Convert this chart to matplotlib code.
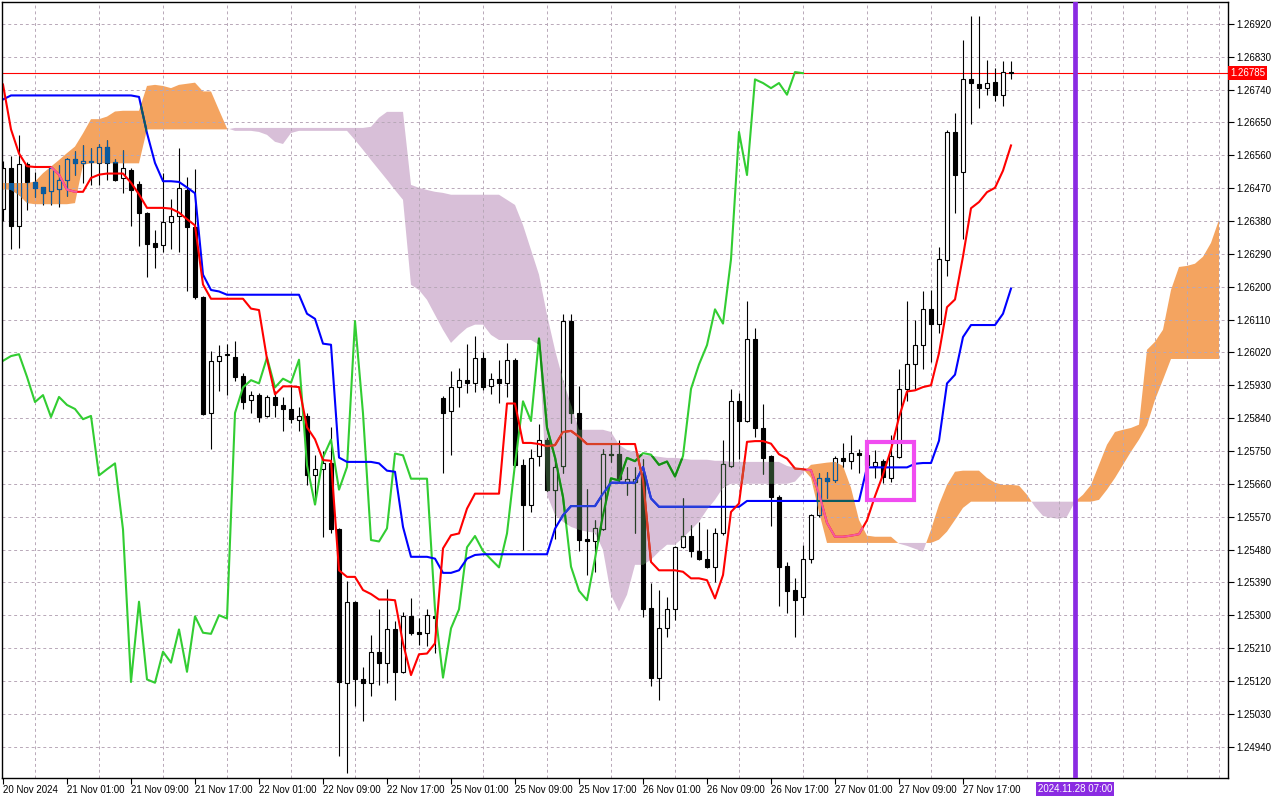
import numpy as np
import matplotlib
matplotlib.use("Agg")
import matplotlib.pyplot as plt
from matplotlib.path import Path
from matplotlib.patches import Rectangle
from matplotlib.transforms import blended_transform_factory

plt.rcParams['font.family'] = ['Liberation Sans', 'DejaVu Sans']

# GBPUSD H1 candles, bar 0 = 20 Nov 17:00, bar 126 = 27 Nov 23:00
opens = [
    1.26414, 1.26525, 1.26365, 1.26536, 1.26488, 1.26472, 1.26461, 1.26467, 1.26491, 1.26550,
    1.26539, 1.26543, 1.26540, 1.26582, 1.26543, 1.26497, 1.26520, 1.26482, 1.26402, 1.26319,
    1.26315, 1.26377, 1.26393, 1.26464, 1.26363, 1.26171, 1.25854, 1.25997, 1.26013, 1.26008,
    1.25956, 1.25890, 1.25903, 1.25846, 1.25898, 1.25876, 1.25865, 1.25835, 1.25846, 1.25683,
    1.25700, 1.25716, 1.25535, 1.25115, 1.25337, 1.25124, 1.25115, 1.25200, 1.25170, 1.25261,
    1.25145, 1.25297, 1.25255, 1.25250, 1.25297, 1.25895, 1.25860, 1.25924, 1.25944, 1.25935,
    1.26006, 1.25927, 1.25948, 1.25937, 1.26000, 1.25711, 1.25603, 1.25736, 1.25779, 1.25644,
    1.25708, 1.26106, 1.25853, 1.25508, 1.25504, 1.25535, 1.25743, 1.25741, 1.25665, 1.25665,
    1.25688, 1.25319, 1.25129, 1.25264, 1.25316, 1.25486, 1.25517, 1.25476, 1.25455, 1.25431,
    1.25524, 1.25709, 1.25886, 1.25832, 1.26058, 1.25814, 1.25736, 1.25624, 1.25434, 1.25369,
    1.25350, 1.25455, 1.25574, 1.25675, 1.25670, 1.25731, 1.25722, 1.25744, 1.25740, 1.25710,
    1.25722, 1.25675, 1.25734, 1.25920, 1.25987, 1.26040, 1.26138, 1.26097, 1.26273, 1.26624,
    1.26513, 1.26768, 1.26756, 1.26744, 1.26761, 1.26724, 1.26788]
highs = [
    1.26545, 1.26559, 1.26616, 1.26543, 1.26514, 1.26472, 1.26532, 1.26534, 1.26552, 1.26571,
    1.26589, 1.26580, 1.26592, 1.26601, 1.26550, 1.26575, 1.26525, 1.26490, 1.26405, 1.26356,
    1.26511, 1.26440, 1.26580, 1.26500, 1.26522, 1.26175, 1.26024, 1.26041, 1.26044, 1.26052,
    1.25964, 1.25914, 1.25909, 1.25903, 1.25914, 1.25898, 1.25931, 1.25870, 1.25854, 1.25738,
    1.25751, 1.25815, 1.25540, 1.25394, 1.25340, 1.25159, 1.25245, 1.25318, 1.25373, 1.25285,
    1.25309, 1.25346, 1.25291, 1.25318, 1.25305, 1.25900, 1.25968, 1.25976, 1.26044, 1.26064,
    1.26021, 1.25964, 1.26000, 1.26046, 1.26005, 1.25729, 1.25754, 1.25825, 1.25785, 1.25734,
    1.26126, 1.26126, 1.25927, 1.25647, 1.25560, 1.25754, 1.25769, 1.25781, 1.25706, 1.25706,
    1.25729, 1.25389, 1.25369, 1.25349, 1.25490, 1.25622, 1.25547, 1.25556, 1.25535, 1.25540,
    1.25779, 1.25921, 1.25909, 1.26160, 1.26088, 1.25878, 1.25740, 1.25630, 1.25446, 1.25401,
    1.25492, 1.25578, 1.25690, 1.25693, 1.25736, 1.25773, 1.25795, 1.25756, 1.25760, 1.25752,
    1.25729, 1.25793, 1.25974, 1.26162, 1.26110, 1.26187, 1.26190, 1.26310, 1.26628, 1.26677,
    1.26876, 1.26942, 1.26942, 1.26822, 1.26798, 1.26817, 1.26817]
lows = [
    1.26380, 1.26303, 1.26306, 1.26411, 1.26447, 1.26424, 1.26424, 1.26418, 1.26449, 1.26507,
    1.26484, 1.26479, 1.26479, 1.26491, 1.26489, 1.26456, 1.26365, 1.26312, 1.26226, 1.26251,
    1.26296, 1.26303, 1.26294, 1.26189, 1.26165, 1.25848, 1.25755, 1.25914, 1.25903, 1.25942,
    1.25865, 1.25854, 1.25828, 1.25843, 1.25843, 1.25804, 1.25826, 1.25804, 1.25656, 1.25606,
    1.25513, 1.25524, 1.24913, 1.24868, 1.25051, 1.25011, 1.25078, 1.25108, 1.25115, 1.25069,
    1.25142, 1.25245, 1.25218, 1.25215, 1.25197, 1.25690, 1.25738, 1.25871, 1.25909, 1.25912,
    1.25918, 1.25905, 1.25882, 1.25898, 1.25705, 1.25478, 1.25583, 1.25708, 1.25640, 1.25510,
    1.25690, 1.25827, 1.25476, 1.25410, 1.25419, 1.25533, 1.25720, 1.25665, 1.25629, 1.25524,
    1.25294, 1.25106, 1.25067, 1.25239, 1.25286, 1.25483, 1.25460, 1.25450, 1.25428, 1.25391,
    1.25520, 1.25705, 1.25729, 1.25829, 1.25789, 1.25688, 1.25544, 1.25325, 1.25305, 1.25241,
    1.25300, 1.25442, 1.25570, 1.25620, 1.25665, 1.25705, 1.25700, 1.25690, 1.25700, 1.25675,
    1.25661, 1.25666, 1.25730, 1.25886, 1.25920, 1.25974, 1.25994, 1.26072, 1.26229, 1.26401,
    1.26332, 1.26646, 1.26690, 1.26724, 1.26709, 1.26695, 1.26768]
closes = [
    1.26526, 1.26365, 1.26536, 1.26488, 1.26470, 1.26458, 1.26525, 1.26493, 1.26550, 1.26539,
    1.26545, 1.26545, 1.26582, 1.26540, 1.26493, 1.26525, 1.26465, 1.26403, 1.26317, 1.26310,
    1.26377, 1.26394, 1.26470, 1.26363, 1.26173, 1.25852, 1.25997, 1.26010, 1.26015, 1.25953,
    1.25884, 1.25903, 1.25843, 1.25898, 1.25876, 1.25865, 1.25837, 1.25846, 1.25683, 1.25700,
    1.25716, 1.25535, 1.25117, 1.25337, 1.25124, 1.25115, 1.25200, 1.25170, 1.25261, 1.25145,
    1.25297, 1.25252, 1.25249, 1.25300, 1.25291, 1.25854, 1.25924, 1.25944, 1.25935, 1.26006,
    1.25924, 1.25948, 1.25937, 1.26000, 1.25711, 1.25603, 1.25732, 1.25781, 1.25644, 1.25706,
    1.26106, 1.25853, 1.25506, 1.25502, 1.25538, 1.25743, 1.25738, 1.25674, 1.25674, 1.25674,
    1.25316, 1.25129, 1.25264, 1.25316, 1.25486, 1.25517, 1.25476, 1.25453, 1.25431, 1.25524,
    1.25714, 1.25886, 1.25832, 1.26058, 1.25814, 1.25732, 1.25624, 1.25433, 1.25367, 1.25341,
    1.25455, 1.25574, 1.25675, 1.25669, 1.25731, 1.25722, 1.25744, 1.25740, 1.25712, 1.25721,
    1.25680, 1.25736, 1.25920, 1.25987, 1.26040, 1.26138, 1.26099, 1.26275, 1.26624, 1.26506,
    1.26768, 1.26758, 1.26744, 1.26758, 1.26726, 1.26788, 1.26785]

# Ichimoku lines
tenkan = [
    1.26754, 1.26631, 1.26565, 1.26530, 1.26528, 1.26528, 1.26528, 1.26507, 1.26466, 1.26460,
    1.26460, 1.26498, 1.26507, 1.26510, 1.26510, 1.26510, 1.26485, 1.26453, 1.26416, 1.26416,
    1.26416, 1.26414, 1.26403, 1.26385, 1.26368, 1.26206, 1.26167, 1.26167, 1.26167, 1.26167,
    1.26167, 1.26140, 1.26136, 1.26002, 1.25905, 1.25927, 1.25927, 1.25925, 1.25815, 1.25782,
    1.25725, 1.25723, 1.25423, 1.25405, 1.25405, 1.25369, 1.25358, 1.25343, 1.25343, 1.25341,
    1.25223, 1.25136, 1.25193, 1.25195, 1.25223, 1.25483, 1.25519, 1.25524, 1.25592, 1.25633,
    1.25633, 1.25633, 1.25633, 1.25880, 1.25880, 1.25772, 1.25772, 1.25769, 1.25763, 1.25766,
    1.25802, 1.25805, 1.25789, 1.25769, 1.25769, 1.25769, 1.25769, 1.25769, 1.25769, 1.25769,
    1.25670, 1.25446, 1.25423, 1.25423, 1.25423, 1.25419, 1.25401, 1.25401, 1.25396, 1.25346,
    1.25410, 1.25583, 1.25606, 1.25775, 1.25777, 1.25777, 1.25770, 1.25741, 1.25729, 1.25702,
    1.25700, 1.25697, 1.25633, 1.25553, 1.25515, 1.25515, 1.25518, 1.25522, 1.25560, 1.25626,
    1.25685, 1.25754, 1.25842, 1.25913, 1.25916, 1.25925, 1.25930, 1.26018, 1.26144, 1.26165,
    1.26283, 1.26415, 1.26432, 1.26459, 1.26471, 1.26518, 1.26587]
kijun = [
    1.26713, 1.26724, 1.26724, 1.26724, 1.26724, 1.26724, 1.26724, 1.26724, 1.26724, 1.26724,
    1.26724, 1.26724, 1.26724, 1.26724, 1.26724, 1.26724, 1.26724, 1.26720, 1.26621, 1.26539,
    1.26489, 1.26489, 1.26487, 1.26472, 1.26456, 1.26233, 1.26191, 1.26187, 1.26178, 1.26178,
    1.26178, 1.26178, 1.26178, 1.26178, 1.26178, 1.26178, 1.26178, 1.26178, 1.26126, 1.26112,
    1.26044, 1.26041, 1.25732, 1.25720, 1.25720, 1.25720, 1.25720, 1.25716, 1.25696, 1.25693,
    1.25542, 1.25460, 1.25460, 1.25460, 1.25455, 1.25416, 1.25416, 1.25423, 1.25455, 1.25465,
    1.25467, 1.25467, 1.25467, 1.25467, 1.25467, 1.25467, 1.25467, 1.25467, 1.25467, 1.25537,
    1.25574, 1.25599, 1.25599, 1.25599, 1.25599, 1.25633, 1.25663, 1.25663, 1.25663, 1.25663,
    1.25706, 1.25620, 1.25597, 1.25597, 1.25597, 1.25597, 1.25597, 1.25597, 1.25597, 1.25597,
    1.25597, 1.25597, 1.25597, 1.25613, 1.25613, 1.25613, 1.25613, 1.25613, 1.25613, 1.25613,
    1.25613, 1.25613, 1.25613, 1.25613, 1.25613, 1.25613, 1.25613, 1.25613, 1.25705, 1.25705,
    1.25705, 1.25705, 1.25705, 1.25705, 1.25715, 1.25717, 1.25717, 1.25778, 1.25935, 1.25959,
    1.26062, 1.26095, 1.26095, 1.26095, 1.26095, 1.26126, 1.26195]
# Senkou spans, already shifted 26 bars forward (bars 0..152)
span_a = [
    1.26484, 1.26484, 1.26484, 1.26484, 1.26488, 1.26511, 1.26529, 1.26547, 1.26566, 1.26584,
    1.26620, 1.26659, 1.26659, 1.26666, 1.26680, 1.26682, 1.26682, 1.26682, 1.26750, 1.26753,
    1.26750, 1.26744, 1.26753, 1.26756, 1.26759, 1.26735, 1.26735, 1.26684, 1.26634, 1.26627,
    1.26627, 1.26627, 1.26624, 1.26616, 1.26597, 1.26591, 1.26621, 1.26627, 1.26627, 1.26627,
    1.26627, 1.26627, 1.26627, 1.26627, 1.26602, 1.26575, 1.26547, 1.26520, 1.26493, 1.26465,
    1.26438, 1.26205, 1.26191, 1.26164, 1.26123, 1.26082, 1.26046, 1.26068, 1.26087, 1.26096,
    1.26096, 1.26068, 1.26054, 1.26054, 1.26054, 1.26054, 1.26054, 1.26041, 1.25630, 1.25575,
    1.25556, 1.25542, 1.25534, 1.25529, 1.25526, 1.25479, 1.25356, 1.25310, 1.25356, 1.25438,
    1.25438, 1.25452, 1.25474, 1.25493, 1.25493, 1.25512, 1.25534, 1.25556, 1.25589, 1.25616,
    1.25649, 1.25660, 1.25660, 1.25660, 1.25660, 1.25660, 1.25660, 1.25660, 1.25660, 1.25666,
    1.25690, 1.25712, 1.25715, 1.25718, 1.25720, 1.25709, 1.25649, 1.25561, 1.25518, 1.25515,
    1.25515, 1.25515, 1.25496, 1.25490, 1.25482, 1.25474, 1.25534, 1.25603, 1.25657, 1.25693,
    1.25696, 1.25696, 1.25696, 1.25676, 1.25663, 1.25657, 1.25657, 1.25655, 1.25630, 1.25597,
    1.25572, 1.25567, 1.25564, 1.25570, 1.25611, 1.25630, 1.25657, 1.25712, 1.25767, 1.25802,
    1.25808, 1.25813, 1.25822, 1.26027, 1.26049, 1.26082, 1.26191, 1.26254, 1.26257, 1.26263,
    1.26282, 1.26320, 1.26383]
span_b = [
    1.26467, 1.26465, 1.26451, 1.26429, 1.26426, 1.26426, 1.26426, 1.26426, 1.26426, 1.26429,
    1.26534, 1.26538, 1.26538, 1.26538, 1.26538, 1.26538, 1.26538, 1.26538, 1.26631, 1.26631,
    1.26631, 1.26631, 1.26631, 1.26631, 1.26631, 1.26631, 1.26631, 1.26631, 1.26631, 1.26635,
    1.26635, 1.26635, 1.26635, 1.26635, 1.26635, 1.26635, 1.26635, 1.26635, 1.26635, 1.26635,
    1.26635, 1.26635, 1.26635, 1.26635, 1.26635, 1.26635, 1.26638, 1.26663, 1.26679, 1.26679,
    1.26679, 1.26479, 1.26471, 1.26465, 1.26460, 1.26457, 1.26452, 1.26452, 1.26452, 1.26452,
    1.26452, 1.26452, 1.26452, 1.26438, 1.26424, 1.26369, 1.26301, 1.26233, 1.26123, 1.26027,
    1.25945, 1.25876, 1.25808, 1.25808, 1.25808, 1.25808, 1.25802, 1.25767, 1.25753, 1.25748,
    1.25739, 1.25737, 1.25734, 1.25731, 1.25731, 1.25729, 1.25726, 1.25726, 1.25726, 1.25723,
    1.25723, 1.25720, 1.25720, 1.25720, 1.25720, 1.25720, 1.25720, 1.25720, 1.25709, 1.25704,
    1.25701, 1.25676, 1.25583, 1.25498, 1.25498, 1.25498, 1.25498, 1.25498, 1.25498, 1.25498,
    1.25498, 1.25498, 1.25498, 1.25498, 1.25498, 1.25498, 1.25498, 1.25507, 1.25529, 1.25561,
    1.25594, 1.25611, 1.25611, 1.25611, 1.25611, 1.25611, 1.25611, 1.25611, 1.25611, 1.25611,
    1.25611, 1.25611, 1.25611, 1.25611, 1.25611, 1.25611, 1.25611, 1.25616, 1.25644, 1.25676,
    1.25712, 1.25748, 1.25781, 1.25820, 1.25890, 1.25945, 1.26002, 1.26002, 1.26002, 1.26002,
    1.26002, 1.26002, 1.26002]

price_ticks = [1.24940, 1.25030, 1.25120, 1.25210, 1.25300, 1.25390, 1.25480, 1.25570,
               1.25660, 1.25750, 1.25840, 1.25930, 1.26020, 1.26110, 1.26200, 1.26290,
               1.26380, 1.26470, 1.26560, 1.26650, 1.26740, 1.26830, 1.26920]
time_bars = [0, 8, 16, 24, 32, 40, 48, 56, 64, 72, 80, 88, 96, 104, 112, 120]
time_labels = ["20 Nov 2024", "21 Nov 01:00", "21 Nov 09:00", "21 Nov 17:00",
               "22 Nov 01:00", "22 Nov 09:00", "22 Nov 17:00", "25 Nov 01:00",
               "25 Nov 09:00", "25 Nov 17:00", "26 Nov 01:00", "26 Nov 09:00",
               "26 Nov 17:00", "27 Nov 01:00", "27 Nov 09:00", "27 Nov 17:00"]
last_price = 1.26785
vline_bar = 134
vline_label = "2024.11.28 07:00"
box_bars = (108.0, 113.9)
box_prices = (1.25616, 1.25775)

o = np.array(opens); h = np.array(highs); l = np.array(lows); c = np.array(closes)
xb = np.arange(len(c))
A = np.array(span_a); B = np.array(span_b)
xc = np.arange(len(A))
chikou_x = xb[:len(c) - 26]
chikou_y = c[26:]

ORANGE = (244, 164, 96)
THISTLE = (216, 191, 216)


def hexc(rgb):
    return tuple(v / 255 for v in rgb)


def xor(rgb, cloud):
    # MT5 paints the cloud in XOR mode: white turns into the cloud colour
    return tuple((a ^ (255 - k)) / 255 for a, k in zip(rgb, cloud))


fig = plt.figure(figsize=(12.8, 8), dpi=100)
ax = fig.add_axes([2 / 1280, 22 / 800, 1226 / 1280, 776 / 800])
ax.set_xlim(-0.125, 153.125)
ax.set_ylim(1.24854, 1.26980)

oc = ax.fill_between(xc, A, B, where=A >= B, interpolate=True,
                     facecolor=hexc(ORANGE), linewidth=0, zorder=1)
pc = ax.fill_between(xc, A, B, where=A <= B, interpolate=True,
                     facecolor=hexc(THISTLE), linewidth=0, zorder=1)


def draw_layer(cols, clip=None, z=2):
    arts = []
    arts.append(ax.vlines(xb, l, h, colors=[cols['k']], lw=0.8, zorder=z))
    faces = [cols['w'] if cc >= oo else cols['k'] for oo, cc in zip(o, c)]
    bodies = ax.bar(xb, np.abs(c - o), bottom=np.minimum(o, c), width=0.62,
                    color=faces, edgecolor=cols['k'], linewidth=0.8, zorder=z + 0.1)
    arts.extend(bodies.patches)
    arts.append(ax.plot(chikou_x, chikou_y, color=cols['g'], lw=1.5, zorder=z + 0.2)[0])
    arts.append(ax.plot(xb, kijun, color=cols['b'], lw=1.5, zorder=z + 0.3)[0])
    arts.append(ax.plot(xb, tenkan, color=cols['r'], lw=1.5, zorder=z + 0.4)[0])
    if clip is not None:
        for a in arts:
            a.set_clip_path(clip, ax.transData)


base = {'k': (0, 0, 0), 'w': (1, 1, 1), 'r': (1, 0, 0), 'b': (0, 0, 1),
        'g': hexc((50, 205, 50))}
draw_layer(base)
for coll, cloud, z in ((oc, ORANGE, 4), (pc, THISTLE, 6)):
    paths = [p for p in coll.get_paths() if len(p.vertices) > 2]
    if not paths:
        continue
    cpath = Path.make_compound_path(*paths)
    cols = {'k': xor((0, 0, 0), cloud), 'w': hexc(cloud), 'r': xor((255, 0, 0), cloud),
            'b': xor((0, 0, 255), cloud), 'g': xor((50, 205, 50), cloud)}
    draw_layer(cols, clip=cpath, z=z)

ax.axhline(last_price, color='red', lw=0.8, zorder=1.8)
ax.axvline(vline_bar, color='#8a2be2', lw=3.4, zorder=8)
ax.add_patch(Rectangle((box_bars[0], box_prices[0]), box_bars[1] - box_bars[0],
                       box_prices[1] - box_prices[0], fill=False,
                       edgecolor='#f04cf0', lw=3, zorder=10))

# grid and axes
ax.set_yticks(price_ticks)
ax.set_yticklabels([f"{p:.5f}" for p in price_ticks])
ax.set_xticks(time_bars)
ax.set_xticklabels(time_labels)
ax.set_xticks(range(0, 153, 4), minor=True)
for lab in ax.get_xticklabels():
    lab.set_horizontalalignment('left')
ax.yaxis.tick_right()
ax.tick_params(axis='y', length=4, width=0.8, pad=2, labelsize=7)
ax.tick_params(axis='x', which='major', length=4, width=0.8, pad=1, labelsize=7)
ax.tick_params(axis='x', which='minor', length=0)
ax.set_axisbelow('line')
gstyle = dict(color='#b8a8b8', linestyle=(0, (3, 3)), linewidth=0.7)
ax.grid(True, axis='y', which='major', **gstyle)
ax.grid(True, axis='x', which='minor', **gstyle)
for s in ax.spines.values():
    s.set_color('black')
    s.set_linewidth(1)

ax.text(1.0 + 2 / 1226, last_price, f"{last_price:.5f}",
        transform=blended_transform_factory(ax.transAxes, ax.transData),
        ha='left', va='center', fontsize=7, color='white', clip_on=False, zorder=20,
        bbox=dict(boxstyle='square,pad=0.2', fc='#ff0000', ec='none'))
ax.text(vline_bar, -0.0145, vline_label,
        transform=blended_transform_factory(ax.transData, ax.transAxes),
        ha='center', va='center', fontsize=7, color='white', clip_on=False, zorder=20,
        bbox=dict(boxstyle='square,pad=0.2', fc='#8a2be2', ec='none'))

fig.savefig("out.png", dpi=100, facecolor='white')
plt.close(fig)
